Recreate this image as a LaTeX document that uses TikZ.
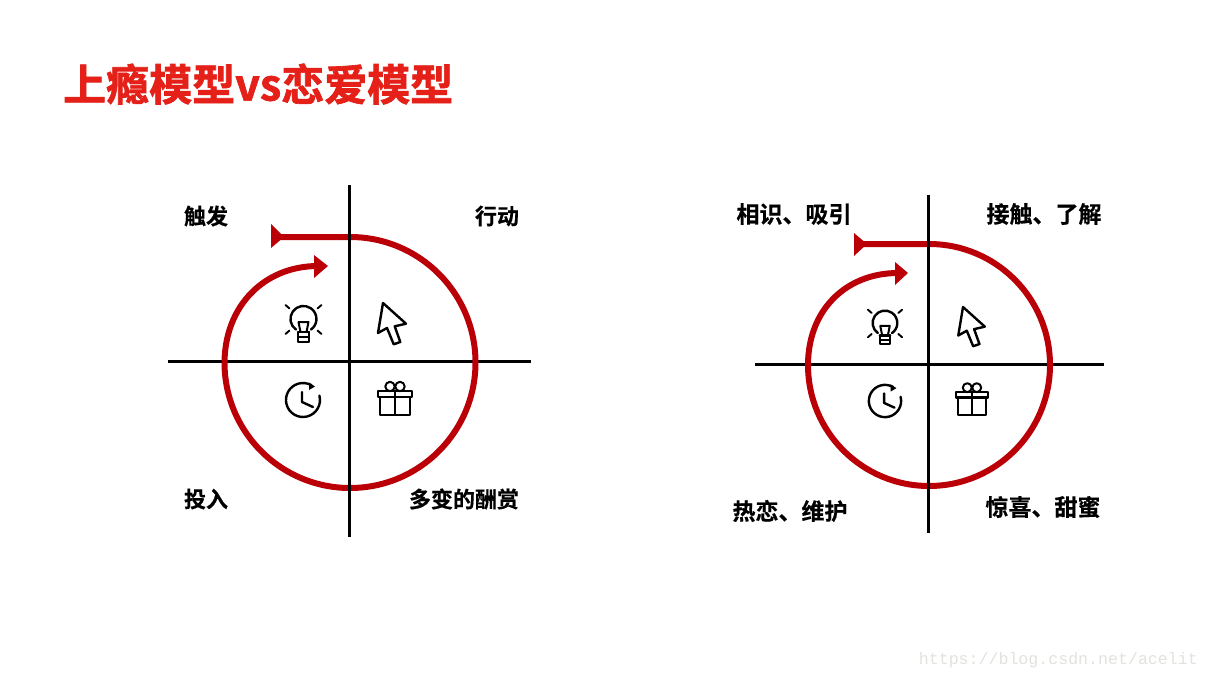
\documentclass[tikz,border=0pt]{standalone}
\usepackage{fontspec}
\newfontfamily\cjk{Noto Sans CJK SC Bold}[FakeBold=0.5]
\newfontfamily\cjkheavy{Noto Sans CJK SC Bold}[FakeBold=1.6]
\newfontfamily\wmfont{Liberation Mono}
\definecolor{loopred}{RGB}{186,0,6}
\definecolor{titlered}{RGB}{228,32,24}
\definecolor{wmgray}{RGB}{226,226,222}
\tikzset{
  x=1pt,y=-1pt,
  axis/.style={line width=3pt,black},
  loop/.style={line width=6pt,loopred},
  headfill/.style={fill=loopred,draw=none},
  lab/.style={font=\cjk\fontsize{22}{24}\selectfont,inner sep=0pt,text=black},
  labr/.style={lab,font=\cjk\fontsize{23}{25}\selectfont},
  icon/.style={line width=2.4pt,black,line join=round,line cap=round},
  pics/bulb/.style={code={
    \draw[icon] (-7.5,10.6) arc[start angle=235,end angle=-55,radius=13pt];
    \draw[icon] (-5.5,13) -- (5.5,13);
    \draw[icon,line width=2pt] (-5.5,13) -- (-5.5,22.5) -- (5.5,22.5) -- (5.5,13);
    \draw[icon,line width=1.6pt] (-5.5,18) -- (5.5,18);
    \draw[icon,line width=2pt] (-5,3) -- (5,3) -- (3,13) (-5,3) -- (-3,13);
    \draw[icon,line width=1.9pt] (-18,-14) -- (-14,-10.5) (18,-14) -- (14,-10.5) (-18,15) -- (-14,11.5) (18,15) -- (14,11.5);
  }},
  pics/cursor/.style={code={
    \draw[icon] (0,0) -- (23,20.7) -- (11.7,23.3) -- (17.3,39) -- (10.7,41.3) -- (4,25) -- (-5,30) -- cycle;
  }},
  pics/clock/.style={code={
    \draw[icon] (16.4,-4.4) arc[start angle=15,end angle=-300,radius=17pt];
    \draw[icon] (-1,-8) -- (-1,2) -- (10,7);
    \fill[black] (6,-17.5) -- (12,-13.5) -- (6,-10) -- cycle;
  }},
  pics/gift/.style={code={
    \draw[icon] (-15,-3) rectangle (15,15);
    \draw[icon,fill=white] (-17,-9) rectangle (17,-3);
    \draw[icon] (0,-9) -- (0,15);
    \draw[icon,line width=2pt] (-5,-13.5) circle[radius=4.7pt];
    \draw[icon,line width=2pt] (5,-13.5) circle[radius=4.7pt];
  }}
}
\begin{document}
\begin{tikzpicture}
\useasboundingbox (0,0) rectangle (1210,680);
\fill[white] (0,0) rectangle (1210,680);

% title
\node[anchor=west,inner sep=0pt,text=titlered,font=\cjkheavy\fontsize{43}{46}\selectfont] (title) at (63,84) {上瘾模型vs恋爱模型};

% left diagram
\coordinate (ltopv) at (349.5,185); \coordinate (lbotv) at (349.5,537);
\coordinate (lleft) at (168,361); \coordinate (lright) at (531,361);
\coordinate (lend) at (280,237); \coordinate (ltop) at (350,237);
\coordinate (ltip) at (318,266);
\draw[axis] (lleft) -- (lright);
\draw[loop] (lend) -- (ltop) arc[start angle=90,end angle=-180,radius=125.5pt]
  .. controls (225,305) and (265,266) .. (ltip);
\draw[axis] (ltopv) -- (lbotv);
\fill[headfill] (271,224) -- (284,237) -- (271,248) -- cycle;
\fill[headfill] (314,255) -- (328,266) -- (314,278) -- cycle;
\pic at (303.5,319) {bulb};
\pic at (383,303) {cursor};
\pic at (303,400) {clock};
\pic at (395,400) {gift};
\node[lab] (l1) at (206,216) {触发};
\node[lab] (l2) at (497,216) {行动};
\node[lab] (l3) at (206,499) {投入};
\node[lab] (l4) at (464,499) {多变的酬赏};

% right diagram
\coordinate (rtopv) at (928.5,195); \coordinate (rbotv) at (928.5,533);
\coordinate (rleft) at (755,364); \coordinate (rright) at (1104,364);
\coordinate (rend) at (862,244); \coordinate (rtop) at (929,244);
\coordinate (rtip) at (898,273);
\draw[axis] (rleft) -- (rright);
\draw[loop] (rend) -- (rtop) arc[start angle=90,end angle=-180,radius=121pt]
  .. controls (808,310) and (846,273) .. (rtip);
\draw[axis] (rtopv) -- (rbotv);
\fill[headfill] (854,233) -- (867,244) -- (854,256) -- cycle;
\fill[headfill] (895,262) -- (908,273) -- (895,285) -- cycle;
\begin{scope}[every pic/.append style={scale=0.95}]
\pic at (885,323) {bulb};
\pic at (963,307) {cursor};
\pic at (885,401) {clock};
\pic at (972,400.5) {gift};
\end{scope}
\node[labr] (r1) at (794,214) {相识、吸引};
\node[labr] (r2) at (1044,214) {接触、了解};
\node[labr] (r3) at (790,511) {热恋、维护};
\node[labr] (r4) at (1043,507) {惊喜、甜蜜};

% watermark
\node[anchor=east,inner sep=0pt,text=wmgray,font=\wmfont\fontsize{16.6}{18}\selectfont] (wm) at (1198,660) {https://blog.csdn.net/acelit};
\end{tikzpicture}
\end{document}
